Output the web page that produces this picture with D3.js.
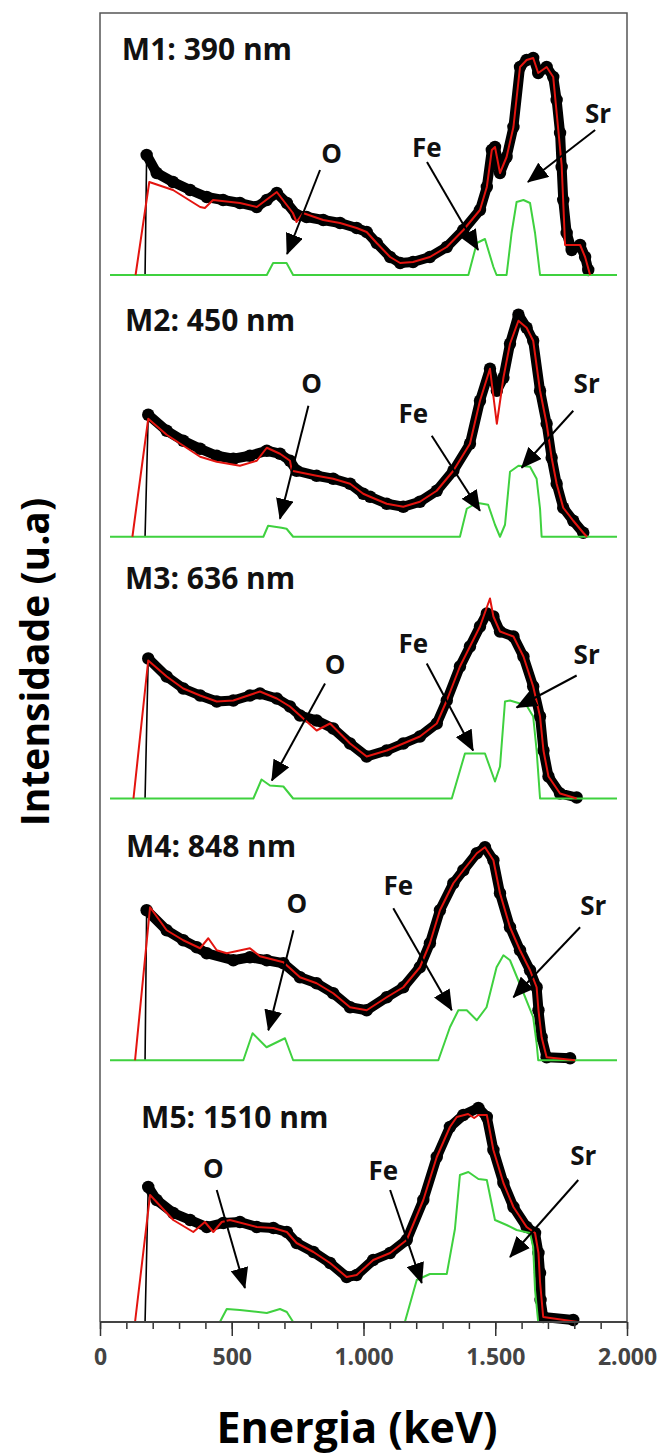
<!DOCTYPE html>
<html><head><meta charset="utf-8">
<script src="https://cdn.jsdelivr.net/npm/d3@7"></script>
<style>body{margin:0;background:#fff}svg{display:block}</style>
</head><body>
<svg id="c" width="663" height="1456"></svg>
<script>
// ---------------- DATA ----------------
const titles = ["M1: 390 nm", "M2: 450 nm", "M3: 636 nm", "M4: 848 nm", "M5: 1510 nm"];
const xTickValues = [0, 500, 1000, 1500, 2000];
const xTickLabels = ["0", "500", "1.000", "1.500", "2.000"];
const xMinorTicks = [0,100,200,300,400,500,600,700,800,900,1000,1100,1200,1300,1400,1500,1600,1700,1800,1900,2000];

// experimental spectra [energy keV, intensity u.a.]
const m1Exp = [[171,0],[177,120],[215,102],[277,93],[342,85],[405,78],[467,75],[531,72],[595,68],[633,75],[671,82],[709,72],[746,60],[784,58],[847,55],[911,52],[974,47],[1012,43],[1050,32],[1101,18],[1139,12],[1188,13],[1252,18],[1316,28],[1379,45],[1442,65],[1468,88],[1487,125],[1499,128],[1518,102],[1543,118],[1569,148],[1594,208],[1619,215],[1644,217],[1663,202],[1695,208],[1720,198],[1733,175],[1746,142],[1752,108],[1758,75],[1771,42],[1790,25],[1822,30],[1841,18],[1853,5],[1860,0]];
const m2Exp = [[171,0],[183,122],[253,106],[316,96],[380,88],[443,81],[506,78],[569,81],[633,86],[683,83],[721,76],[746,66],[822,61],[885,58],[949,53],[999,43],[1025,40],[1088,33],[1151,30],[1214,35],[1278,46],[1341,66],[1404,93],[1442,136],[1480,168],[1506,146],[1531,159],[1556,193],[1588,222],[1619,209],[1644,196],[1670,146],[1695,113],[1714,79],[1733,53],[1758,29],[1796,16],[1834,4],[1848,0]];
const m3Exp = [[171,0],[183,140],[253,122],[316,110],[380,103],[443,97],[506,98],[569,103],[607,105],[671,100],[721,92],[759,83],[822,78],[885,70],[949,55],[1012,42],[1088,48],[1151,55],[1214,62],[1278,75],[1316,98],[1366,132],[1404,152],[1442,172],[1468,185],[1493,182],[1518,167],[1569,162],[1607,142],[1644,112],[1670,82],[1683,48],[1702,22],[1746,5],[1809,1]];
const m4Exp = [[171,0],[177,150],[253,130],[316,120],[367,113],[405,107],[506,100],[569,103],[633,100],[696,97],[759,83],[822,77],[885,67],[949,53],[1012,50],[1088,63],[1151,73],[1214,93],[1252,117],[1290,150],[1341,177],[1379,190],[1430,207],[1461,213],[1493,200],[1518,167],[1556,133],[1594,110],[1632,90],[1657,73],[1664,50],[1676,23],[1695,3],[1784,2],[1803,0]];
const m5Exp = [[171,0],[183,135],[215,122],[278,109],[342,102],[405,95],[468,99],[531,100],[595,95],[658,94],[709,90],[746,79],[810,70],[873,59],[936,45],[974,47],[1037,62],[1101,69],[1164,82],[1227,122],[1278,165],[1328,195],[1379,207],[1436,214],[1468,205],[1493,172],[1531,139],[1569,115],[1619,95],[1651,89],[1664,69],[1670,49],[1672,22],[1682,5],[1796,2],[1814,0]];

// simulated spectra [energy keV, intensity u.a.]
const m1Sim = [[135,0],[187,93],[277,85],[380,68],[398,67],[429,75],[531,72],[595,68],[671,83],[732,62],[746,53],[770,62],[847,55],[911,52],[974,47],[1012,43],[1050,32],[1101,18],[1139,12],[1188,13],[1252,18],[1316,28],[1379,45],[1442,65],[1468,88],[1487,125],[1499,128],[1518,102],[1543,118],[1569,148],[1594,208],[1619,215],[1644,217],[1663,202],[1695,208],[1720,198],[1752,110],[1765,30],[1822,30],[1841,18],[1860,0]];
const m2Sim = [[123,0],[183,118],[253,102],[380,80],[443,75],[531,71],[595,76],[633,89],[683,83],[721,76],[728,66],[822,61],[885,58],[949,53],[999,43],[1025,40],[1088,33],[1151,30],[1214,35],[1278,46],[1341,66],[1404,93],[1442,136],[1480,168],[1506,113],[1531,159],[1556,193],[1588,216],[1619,209],[1644,196],[1670,146],[1695,113],[1714,79],[1733,53],[1758,29],[1796,16],[1834,4],[1848,0]];
const m3Sim = [[127,0],[183,138],[253,122],[316,110],[380,103],[443,97],[506,98],[607,107],[671,100],[721,92],[759,83],[822,68],[873,75],[949,55],[1012,42],[1088,48],[1151,55],[1214,62],[1278,75],[1316,98],[1366,132],[1404,152],[1442,172],[1480,200],[1493,182],[1518,167],[1569,162],[1607,142],[1644,112],[1670,82],[1683,48],[1702,22],[1746,5],[1809,0]];
const m4Sim = [[133,0],[190,153],[253,130],[316,120],[380,112],[411,122],[443,110],[481,107],[569,112],[607,104],[696,98],[759,83],[822,77],[885,67],[949,53],[1012,50],[1088,63],[1151,73],[1214,93],[1252,117],[1290,150],[1341,177],[1379,190],[1430,207],[1461,213],[1493,200],[1518,167],[1556,133],[1594,110],[1632,90],[1657,73],[1664,50],[1676,23],[1695,3],[1803,0]];
const m5Sim = [[133,0],[190,127],[278,102],[354,90],[398,100],[430,90],[462,100],[493,102],[595,95],[658,94],[709,90],[746,79],[810,70],[873,59],[936,45],[974,47],[1037,62],[1101,69],[1164,82],[1227,122],[1278,165],[1328,195],[1354,205],[1397,208],[1420,204],[1436,207],[1468,207],[1493,172],[1531,139],[1569,115],[1619,95],[1651,89],[1664,69],[1670,40],[1682,5],[1814,0]];

// element contributions (O, Fe, Sr) [energy keV, intensity u.a.]
const m1Elem = [[38,0],[633,0],[657,12],[708,12],[733,0],[1398,0],[1430,32],[1461,36],[1493,8],[1505,0],[1543,0],[1562,42],[1581,73],[1607,75],[1632,72],[1651,42],[1670,0],[1962,0]];
const m2Elem = [[38,0],[620,0],[638,11],[689,9],[708,8],[733,0],[1366,0],[1392,28],[1430,34],[1473,32],[1499,12],[1518,0],[1537,12],[1556,65],[1588,71],[1632,70],[1657,58],[1670,28],[1676,0],[1962,0]];
const m3Elem = [[38,0],[582,0],[613,19],[645,13],[696,12],[733,0],[1335,0],[1385,45],[1461,45],[1499,17],[1518,32],[1537,97],[1556,98],[1619,93],[1644,82],[1657,48],[1670,0],[1962,0]];
const m4Elem = [[38,0],[544,0],[579,27],[632,13],[702,22],[733,0],[1284,0],[1328,33],[1360,50],[1392,50],[1430,40],[1467,53],[1505,93],[1531,105],[1556,100],[1606,68],[1644,43],[1657,17],[1663,0],[1962,0]];
const m5Elem = [[38,0],[455,0],[481,13],[531,12],[633,9],[683,13],[709,10],[733,0],[1157,0],[1202,42],[1252,48],[1316,48],[1347,93],[1366,147],[1398,150],[1436,143],[1468,142],[1499,102],[1543,97],[1581,92],[1632,89],[1644,75],[1651,32],[1663,0],[1962,0]];

const expSeries = [m1Exp, m2Exp, m3Exp, m4Exp, m5Exp];
const simSeries = [m1Sim, m2Sim, m3Sim, m4Sim, m5Sim];
const elemSeries = [m1Elem, m2Elem, m3Elem, m4Elem, m5Elem];

// ---------------- LAYOUT (annotation anchors in data units) ----------------
const titleAnchors = [[83,215],[95,206],[95,210],[99,203],[156,194]];
const notes = [
  [{t:"O",l:[879,122],a:[835,105],e:[710,21]},{t:"Fe",l:[1240,128],a:[1241,113],e:[1435,25]},{t:"Sr",l:[1890,162],a:[1879,145],e:[1624,93]}],
  [{t:"O",l:[803,154],a:[791,131],e:[683,18]},{t:"Fe",l:[1189,124],a:[1259,101],e:[1442,26]},{t:"Sr",l:[1847,154],a:[1796,126],e:[1600,69]}],
  [{t:"O",l:[892,135],a:[854,115],e:[652,18]},{t:"Fe",l:[1189,156],a:[1240,135],e:[1416,48]},{t:"Sr",l:[1847,145],a:[1809,123],e:[1581,91]}],
  [{t:"O",l:[747,157],a:[734,130],e:[639,30]},{t:"Fe",l:[1132,175],a:[1113,152],e:[1335,50]},{t:"Sr",l:[1872,155],a:[1822,133],e:[1569,63]}],
  [{t:"O",l:[430,154],a:[443,132],e:[550,34]},{t:"Fe",l:[1075,152],a:[1101,132],e:[1221,39]},{t:"Sr",l:[1834,167],a:[1815,142],e:[1556,65]}]
];

// ---------------- DRAW ----------------
(function () {
const plotLeft = 100, plotRight = 627, plotTop = 13, plotBottom = 1322;
const panelStep = (plotBottom - 275) / 4;
const svg = d3.select("#c");
const x = d3.scaleLinear().domain([0, 2000]).range([plotLeft, plotRight]);
const FONT = "'Open Sans', 'DejaVu Sans', sans-serif";

const defs = svg.append("defs");
defs.append("marker").attr("id","ah").attr("viewBox","0 -9 21 18")
  .attr("refX",20).attr("refY",0).attr("markerWidth",21).attr("markerHeight",18)
  .attr("markerUnits","userSpaceOnUse").attr("orient","auto")
  .append("path").attr("d","M0,-9L21,0L0,9Z").attr("fill","#000");

svg.append("path")
  .attr("d", `M${plotLeft},${plotBottom}V${plotTop}H${plotRight}V${plotBottom}`)
  .attr("fill","none").attr("stroke","#555").attr("stroke-width",1.5);

titles.forEach((title, i) => {
  const base = 275 + i * panelStep;
  const y = d3.scaleLinear().domain([0, 250]).range([base, base - 250]);
  const g = svg.append("g");
  const line = d3.line().x(d => x(d[0])).y(d => y(d[1]));

  const exp = expSeries[i];
  g.append("path").attr("d", line(exp)).attr("fill","none")
    .attr("stroke","#000").attr("stroke-width",1.6);
  const expPos = exp.filter(d => d[1] > 0);
  g.append("path").attr("d", line(expPos)).attr("fill","none")
    .attr("stroke","#000").attr("stroke-width",10)
    .attr("stroke-linejoin","round").attr("stroke-linecap","round");
  g.selectAll("circle.e").data(expPos).join("circle").attr("class","e")
    .attr("cx", d => x(d[0])).attr("cy", d => y(d[1])).attr("r", 6.2).attr("fill","#000");

  g.append("path").attr("d", line(elemSeries[i])).attr("fill","none")
    .attr("stroke","#3fd13f").attr("stroke-width",2).attr("stroke-linejoin","round");

  g.append("path").attr("d", line(simSeries[i])).attr("fill","none")
    .attr("stroke","#e3140f").attr("stroke-width",2).attr("stroke-linejoin","round");

  g.append("text").attr("x", x(titleAnchors[i][0])).attr("y", y(titleAnchors[i][1]))
    .attr("font-family", FONT).attr("font-weight","bold").attr("font-size",30)
    .attr("fill","#111").text(title);

  notes[i].forEach(n => {
    g.append("line").attr("x1", x(n.a[0])).attr("y1", y(n.a[1]))
      .attr("x2", x(n.e[0])).attr("y2", y(n.e[1]))
      .attr("stroke","#000").attr("stroke-width",2).attr("marker-end","url(#ah)");
    g.append("text").attr("x", x(n.l[0])).attr("y", y(n.l[1]))
      .attr("text-anchor","middle").attr("dominant-baseline","central")
      .attr("font-family", FONT).attr("font-weight","bold").attr("font-size",26)
      .attr("fill","#111").text(n.t);
  });
});

const axG = svg.append("g").attr("transform", `translate(0,${plotBottom})`);
axG.call(d3.axisBottom(x).tickValues(xMinorTicks).tickSize(7).tickFormat(""))
  .call(a => a.select(".domain").remove());
axG.selectAll("line").attr("stroke","#333").attr("stroke-width",1.5);
const axM = svg.append("g").attr("transform", `translate(0,${plotBottom})`);
axM.call(d3.axisBottom(x).tickValues(xTickValues).tickSize(14).tickPadding(13)
  .tickFormat((d, k) => xTickLabels[k]));
axM.select(".domain").attr("d", `M${plotLeft},0H${plotRight}`).attr("stroke","#444").attr("stroke-width",2);
axM.selectAll("line").attr("stroke","#333").attr("stroke-width",1.5);
axM.selectAll("text").attr("font-family", FONT).attr("font-weight","bold")
  .attr("font-size",23).attr("fill","#444");

svg.append("text").attr("x", 357).attr("y", 1443).attr("text-anchor","middle")
  .attr("font-family", FONT).attr("font-weight","bold").attr("font-size",43)
  .attr("fill","#000").text("Energia (keV)");
svg.append("text").attr("transform","translate(49,662) rotate(-90)").attr("text-anchor","middle")
  .attr("font-family", FONT).attr("font-weight","bold").attr("font-size",39)
  .attr("fill","#000").text("Intensidade (u.a)");
})();
</script>
</body></html>
